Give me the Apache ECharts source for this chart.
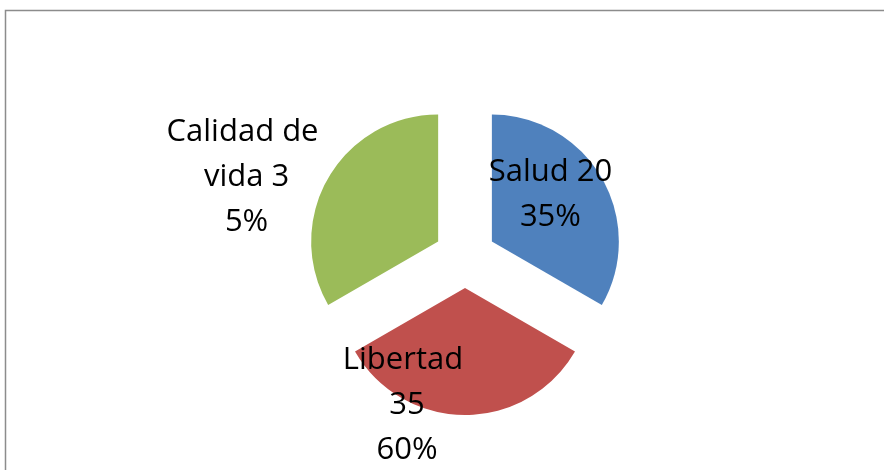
<!DOCTYPE html>
<html>
<head>
<meta charset="utf-8">
<script src="https://cdn.jsdelivr.net/npm/echarts@6/dist/echarts.min.js"></script>
<style>
  html, body { margin: 0; padding: 0; background: #fff; }
  #chart { width: 884px; height: 470px; }
</style>
</head>
<body>
<div id="chart"></div>
<script>
  // datos del gráfico
  const categories = ['Salud', 'Libertad', 'Calidad de vida']
  const counts = [20, 35, 3]
  const percents = [35, 60, 5]
  // las porciones se ven iguales en la imagen (tres tercios)
  const sliceShares = [1, 1, 1]

  const colors = ['#4F81BD', '#C0504D', '#9BBB59']
  // desplazamiento y ancho de cada etiqueta
  const labelShifts = [[1, -14], [-58, 51], [-134, -31]]
  const labelWidths = [160, 130, 170]

  const mChart = echarts.init(document.getElementById('chart'))

  const getData = () => categories.map((name, i) => ({
    name: name,
    value: sliceShares[i],
    selected: true,
    itemStyle: { color: colors[i] },
    label: { width: labelWidths[i] }
  }))

  const options = {
    animation: false,
    graphic: [{
      type: 'rect',
      shape: { x: 5.5, y: 10.5, width: 900, height: 480 },
      style: { fill: 'none', stroke: '#8c8c8c', lineWidth: 1.5 },
      silent: true
    }],
    series: [{
      type: 'pie',
      center: [465, 257],
      radius: 127,
      startAngle: 90,
      clockwise: true,
      selectedMode: 'multiple',
      selectedOffset: 31,
      emphasis: { disabled: true },
      label: {
        show: true,
        position: 'inside',
        overflow: 'break',
        align: 'center',
        color: '#000',
        fontFamily: '"Open Sans", sans-serif',
        fontSize: 31,
        lineHeight: 45,
        formatter: (p) => categories[p.dataIndex] + ' ' + counts[p.dataIndex] + '\n' + percents[p.dataIndex] + '%'
      },
      labelLayout: (p) => ({
        dx: labelShifts[p.dataIndex][0],
        dy: labelShifts[p.dataIndex][1]
      }),
      labelLine: { show: false },
      data: getData()
    }]
  }

  mChart.setOption(options)
</script>
</body>
</html>
